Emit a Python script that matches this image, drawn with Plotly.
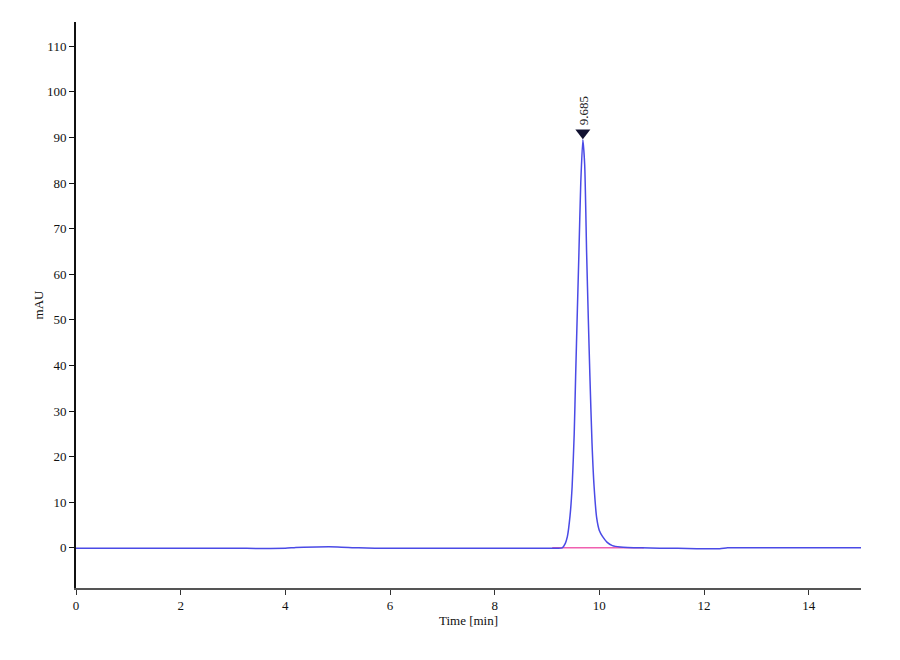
import plotly.graph_objects as go

# chromatogram trace (time in min, signal in mAU)
time_min = [0.0, 1.0, 2.0, 3.0, 4.0, 4.2, 4.6, 5.0, 5.4, 6.0, 7.0, 8.0, 9.0,
            9.2, 9.29, 9.35, 9.39, 9.44, 9.48, 9.52, 9.547, 9.58, 9.61, 9.645,
            9.685, 9.72, 9.757, 9.79, 9.82, 9.86, 9.90, 9.95, 10.0, 10.06,
            10.15, 10.25, 10.4, 10.8, 11.5, 12.3, 12.45, 13.0, 14.0, 15.0]
signal = [-0.1, -0.1, -0.1, -0.1, -0.1, 0.1, 0.2, 0.2, 0.0, -0.1, -0.1, -0.1, -0.1,
          -0.1, 0.0, 1.0, 2.5, 7.0, 13.4, 25.0, 37.6, 52.0, 64.7, 80.0,
          89.5, 84.0, 64.7, 50.0, 37.6, 23.0, 13.4, 6.5, 3.8, 2.5,
          1.2, 0.5, 0.2, 0.0, -0.1, -0.2, 0.0, 0.0, 0.0, 0.0]

# integration baseline under the peak
base_t = [9.10, 10.85]
base_y = [0.0, 0.0]

peak_t = [9.685]
peak_y = [91.0]
peak_lbl = ["9.685"]

x_ticks = [0, 2, 4, 6, 8, 10, 12, 14]
y_ticks = [0, 10, 20, 30, 40, 50, 60, 70, 80, 90, 100, 110]

fig = go.Figure()
fig.add_trace(go.Scatter(x=base_t, y=base_y, mode="lines",
                         line=dict(color="#f060b0", width=1.5), hoverinfo="skip"))
fig.add_trace(go.Scatter(x=time_min, y=signal, mode="lines",
                         line=dict(color="#4a4ae6", width=1.5, shape="spline", smoothing=0.6)))
fig.add_trace(go.Scatter(x=peak_t, y=peak_y, mode="markers",
                         marker=dict(symbol="triangle-down", size=13, color="#101030")))
fig.add_annotation(x=peak_t[0], y=peak_y[0], text=peak_lbl[0], textangle=-90,
                   showarrow=False, yanchor="bottom", yshift=6, xshift=0,
                   font=dict(family="Liberation Serif", size=13, color="#202020"))

# page body adds 8px, margins compensate for it
fig.update_layout(
    width=900, height=660,
    margin=dict(l=68, r=47, t=14, b=80),
    paper_bgcolor="white", plot_bgcolor="white",
    showlegend=False,
    font=dict(family="Liberation Serif", size=13, color="#111"),
)
fig.update_xaxes(range=[0, 15], tickvals=x_ticks, ticks="outside", ticklen=5,
                 tickcolor="#333", showgrid=False, zeroline=False, automargin=False,
                 showline=True, linecolor="#555", linewidth=1.5,
                 title=dict(text="Time [min]", standoff=0, font=dict(size=13)))
fig.update_yaxes(range=[-8.8, 115.3], tickvals=y_ticks, ticks="outside", ticklen=5,
                 tickcolor="#111", showgrid=False, zeroline=False, automargin=False,
                 showline=True, linecolor="#111", linewidth=2,
                 title=dict(text="mAU", standoff=0, font=dict(size=13)))

fig.write_html("out.html")
